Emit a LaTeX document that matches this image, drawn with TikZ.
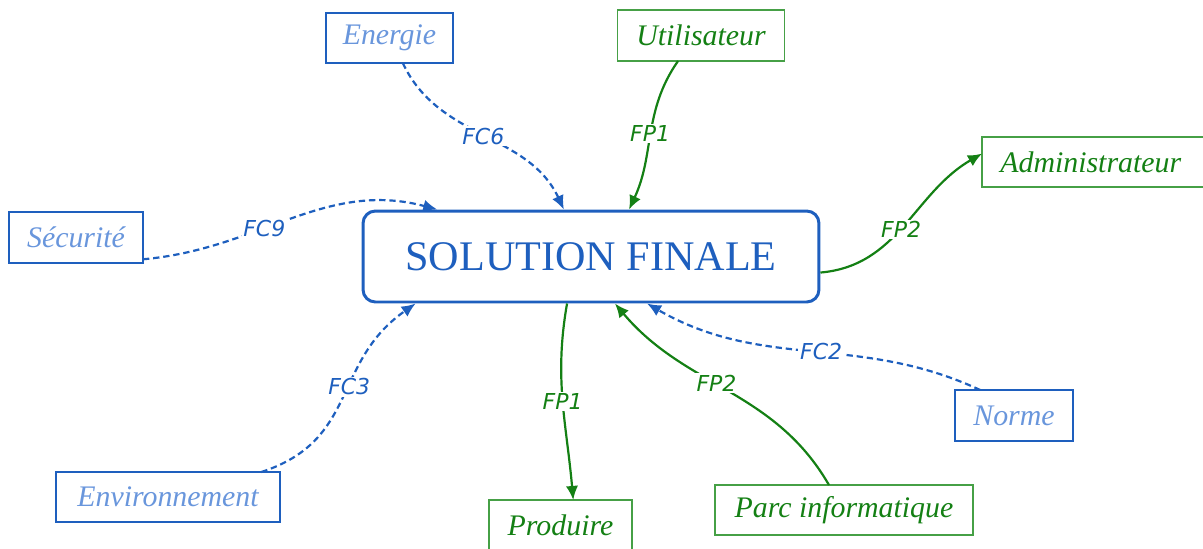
\documentclass[tikz,border=0pt]{standalone}
\usepackage{fontspec}
\setmainfont{Liberation Serif}
\newfontfamily\labelfont{DejaVu Sans}[ItalicFont={DejaVu Sans Oblique}]
\usetikzlibrary{arrows.meta}
\usetikzlibrary{positioning}

\definecolor{bleuFC}{RGB}{30,95,190}
\definecolor{bleuTxt}{RGB}{105,150,220}
\definecolor{vertFP}{RGB}{20,128,20}
\definecolor{vertBox}{RGB}{70,160,70}

\tikzset{
  fcbox/.style={draw=bleuFC, line width=0.7pt, text=bleuTxt, inner sep=0pt, outer sep=0pt,
    minimum height=1cm, font=\fontsize{17}{20}\selectfont\itshape},
  fpbox/.style={fcbox, draw=vertBox, text=vertFP},
  lienFC/.style={bleuFC, line width=1.25pt, dash pattern=on 3.6pt off 2.2pt,
    -{Latex[length=8pt,width=7pt]}},
  lienFP/.style={vertFP, line width=1.25pt, -{Latex[length=8pt,width=7pt]}},
  etiq/.style={fill=white, inner sep=1pt, font=\labelfont\itshape\fontsize{12.5}{13}\selectfont}
}

\begin{document}
\begin{tikzpicture}[x=0.02cm, y=-0.02cm]
\useasboundingbox (0,0) rectangle (1203,548);

%centre
\node[draw=bleuFC, line width=1.7pt, rounded corners=7pt, minimum width=9.12cm, minimum height=1.82cm,
  text=bleuFC, font=\fontsize{24}{26}\selectfont, inner sep=0pt] (sol) at (591,256.5) {SOLUTION FINALE};

%contraintes
\node[fcbox, minimum width=2.54cm] (energie) at (389.5,38) {Energie};
\node[fcbox, minimum width=2.68cm, minimum height=1.02cm] (securite) at (76,237.5) {Sécurité};
\node[fcbox, minimum width=4.48cm] (environ) at (168,497) {Environnement};
\node[fcbox, minimum width=2.36cm, minimum height=1.02cm] (norme) at (1014,415.5) {Norme};

%fonctions principales
\node[fpbox, minimum width=3.34cm, minimum height=1.02cm] (util) at (701,35.5) {Utilisateur};
\node[fpbox, minimum width=4.8cm] (admin) at (1102,162) {\hspace*{-0.45cm}Administrateur};
\node[fpbox, minimum width=2.86cm] (produire) at (560.5,525) {Produire};
\node[fpbox, minimum width=5.16cm] (parc) at (844,510) {Parc informatique};

%liens FC
\draw[lienFC] (energie.-62) to[out=-65, in=115] node[etiq, text=bleuFC] {FC6} (sol.120);
\draw[lienFC] (securite.-18) to[out=5, in=165] node[etiq, text=bleuFC, pos=0.4] {FC9} (sol.163);
\draw[lienFC] (environ.15) to[out=18, in=-145, looseness=1.15] node[etiq, text=bleuFC, pos=0.56] {FC3} (sol.-165);
\draw[lienFC] (norme.143) to[out=155, in=-30] node[etiq, text=bleuFC, pos=0.47] {FC2} (sol.-40);

%liens FP
\draw[lienFP] (util.-132) to[out=-125, in=65] node[etiq, text=vertFP] {FP1} (sol.51);
\draw[lienFP] (sol.-4) to[out=5, in=210] node[etiq, text=vertFP, pos=0.47] {FP2} (admin.176);
\draw[lienFP] (sol.-117) to[out=-100, in=95] node[etiq, text=vertFP] {FP1} (produire.63);
\draw[lienFP] (parc.121) to[out=120, in=-50] node[etiq, text=vertFP, pos=0.55] {FP2} (sol.-63);

\end{tikzpicture}
\end{document}
